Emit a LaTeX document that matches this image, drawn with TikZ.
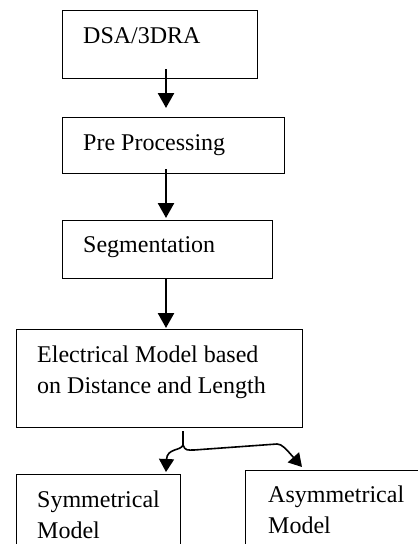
\documentclass[tikz,border=0pt]{standalone}
\usepackage{fontspec}
\setmainfont{Liberation Serif}
\usetikzlibrary{arrows.meta}

\begin{document}
\begin{tikzpicture}[x=1pt,y=-1pt,
    box/.style={draw,line width=1.2pt,anchor=north west,inner sep=0pt},
    lbl/.style={anchor=base west,inner sep=0pt,align=left,
        font=\fontsize{24}{31}\selectfont},
    flow/.style={line width=2.5pt,-{Triangle[width=16pt,length=15pt]}},
    split/.style={line width=1.6pt,-{Triangle[width=15pt,length=13pt]}}]
            \useasboundingbox (0,0) rectangle (418,544);
            
            % Boxes
            \node[box,minimum width=195pt,minimum height=68pt] (dsa) at (62,10) {};
            \node[box,minimum width=222pt,minimum height=56pt] (pre) at (62,117) {};
            \node[box,minimum width=210pt,minimum height=58pt] (seg) at (62,220) {};
            \node[box,minimum width=286pt,minimum height=98pt] (elec) at (16,329) {};
            \node[box,minimum width=164pt,minimum height=110pt] (sym) at (16,474) {};
            \node[box,minimum width=200pt,minimum height=110pt] (asym) at (245,470) {};
            
            % Labels (base of the last line)
            \node[lbl] (dsa-t) at (83,43) {DSA/3DRA};
            \node[lbl] (pre-t) at (83,150) {Pre Processing};
            \node[lbl] (seg-t) at (83,252) {Segmentation};
            \node[lbl] (elec-t) at (37,393) {Electrical Model based\\on Distance and Length};
            \node[lbl] (sym-t) at (37,538) {Symmetrical\\Model};
            \node[lbl] (asym-t) at (268,533) {Asymmetrical\\Model};
            
            % Main arrows
            \coordinate (spine) at (166,0);
            \foreach \a/\b/\s/\e in {dsa/pre/10/9,pre/seg/5/2,seg/elec/0/1}
                \draw[flow] ([yshift=\s pt]\a.south -| spine) -- ([yshift=\e pt]\b.north -| spine);
            
            % Split to the two models
            \coordinate (fork) at (183,0);
            \coordinate (cusp) at (183,445);
            \draw[line width=1.6pt] ([yshift=-3pt]elec.south -| fork) -- (cusp);
            \draw[split] (cusp) .. controls (181,451) and (167,448) .. ([yshift=2pt]sym.north -| spine);
            \draw[split] (cusp) .. controls (185,451) and (188,450) .. (194,450)
                -- (277,444) .. controls (282,444) and (286,449) .. ([xshift=57pt,yshift=3pt]asym.north west);
        \end{tikzpicture}
\end{document}
